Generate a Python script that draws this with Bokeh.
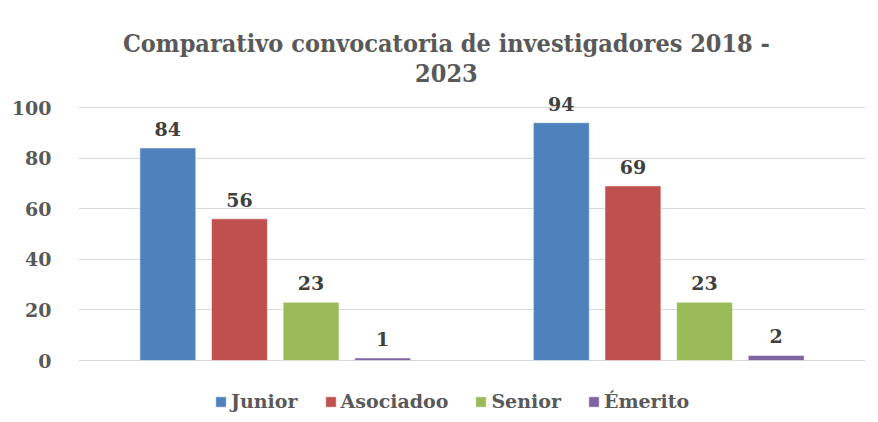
from bokeh.plotting import figure
from bokeh.models import ColumnDataSource, FactorRange, Range1d, LabelSet, Label, Legend, LegendItem
from bokeh.transform import dodge
from bokeh.core.properties import value
from bokeh.embed import file_html
from bokeh.resources import INLINE

periods = ["2018", "2023"]
series = ["Junior", "Asociadoo", "Senior", "Émerito"]
junior = [84, 94]
asociado = [56, 69]
senior = [23, 23]
emerito = [1, 2]
colors = ["#4f81bd", "#c0504d", "#9bbb59", "#8064a2"]
y_ticks = [0, 20, 40, 60, 80, 100]
title_lines = ["Comparativo convocatoria de investigadores 2018 -", "2023"]

FONT = "DejaVu Serif"
TFONT = "DejaVu Serif Condensed, DejaVu Serif"

src = ColumnDataSource(dict(period=periods, Junior=junior, Asociadoo=asociado,
                            Senior=senior, Emerito=emerito,
                            lJ=[str(v) for v in junior], lA=[str(v) for v in asociado],
                            lS=[str(v) for v in senior], lE=[str(v) for v in emerito]))

# frame spans the whole height so that title and legend sit inside it (not clipped)
p = figure(width=878, height=420, x_range=FactorRange(*periods, range_padding=0, factor_padding=0),
           y_range=Range1d(-23.7, 142.3), output_backend="svg", toolbar_location=None,
           min_border_left=78, min_border_right=13, min_border_top=0, min_border_bottom=0)
p.outline_line_color = None
p.xaxis.visible = False
p.xgrid.visible = False
p.ygrid.grid_line_color = "#d9d9d9"
p.ygrid.grid_line_width = 1
p.yaxis.ticker = y_ticks
p.yaxis.axis_line_color = None
p.yaxis.major_tick_line_color = None
p.yaxis.minor_tick_line_color = None
p.yaxis.major_label_text_font = FONT
p.yaxis.major_label_text_font_style = "bold"
p.yaxis.major_label_text_font_size = "19px"
p.yaxis.major_label_text_color = "#595959"
p.yaxis.major_label_standoff = 21

offsets = [-0.273, -0.091, 0.091, 0.273]
cols = ["Junior", "Asociadoo", "Senior", "Emerito"]
labs = ["lJ", "lA", "lS", "lE"]
items = []
for name, col, lab, off, c in zip(series, cols, labs, offsets, colors):
    r = p.vbar(x=dodge("period", off, range=p.x_range), top=col, bottom=0, width=0.142, source=src,
               fill_color=c, line_color="white", line_alpha=0.5, line_width=1)
    items.append(LegendItem(label=name, renderers=[r]))
    ls = LabelSet(x=dodge("period", off, range=p.x_range), y=col, text=lab, source=src,
                  text_align="center", text_baseline="bottom", y_offset=12,
                  text_font=value(FONT), text_font_style="bold", text_font_size="19px",
                  text_color="#404040")
    p.add_layout(ls)

legend = Legend(items=items, orientation="horizontal", location=(136, 8),
                glyph_width=13, glyph_height=13, label_standoff=4, spacing=26,
                padding=0, margin=0, border_line_color=None, background_fill_alpha=0,
                label_text_font=FONT, label_text_font_style="bold",
                label_text_font_size="19px", label_text_color="#595959")
p.add_layout(legend, "center")

for t, yy in zip(title_lines, [125.3, 113.8]):
    p.add_layout(Label(x=0.935, y=yy, text=t, text_align="center", text_baseline="middle",
                       text_font=TFONT, text_font_style="bold", text_font_size="25px",
                       text_color="#595959"))

open("out.html", "w").write(file_html(p, INLINE))
